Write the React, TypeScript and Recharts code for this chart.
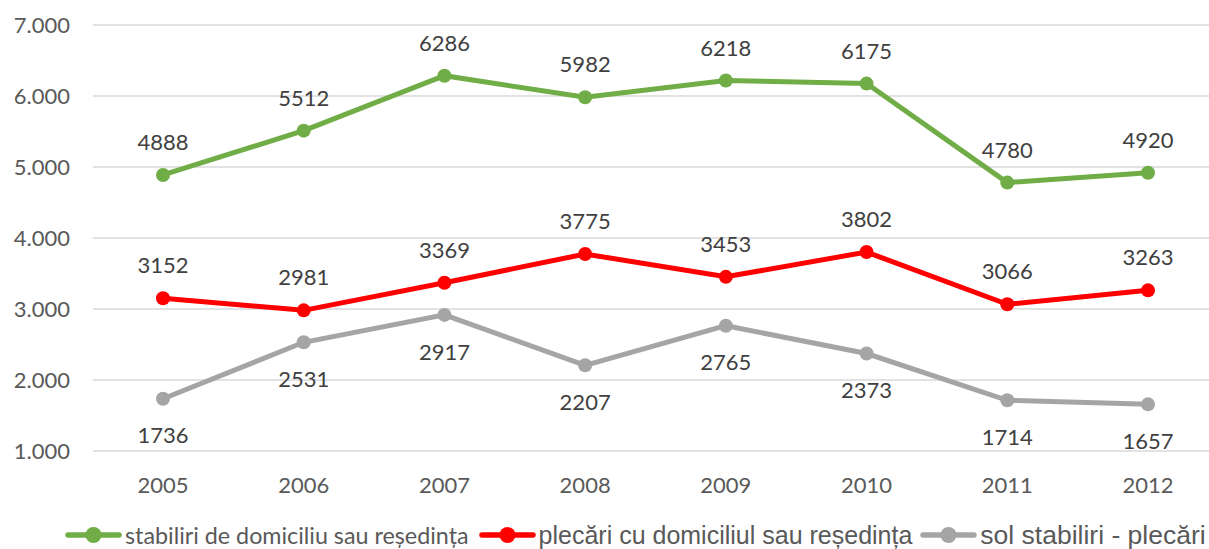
import React from 'react';
import { LineChart, Line, XAxis, YAxis, CartesianGrid, Legend, LabelList } from 'recharts';

const years = ['2005', '2006', '2007', '2008', '2009', '2010', '2011', '2012'];
const stabiliri = [4888, 5512, 6286, 5982, 6218, 6175, 4780, 4920];
const plecari = [3152, 2981, 3369, 3775, 3453, 3802, 3066, 3263];
const sold = [1736, 2531, 2917, 2207, 2765, 2373, 1714, 1657];
const yTicks = [1000, 2000, 3000, 4000, 5000, 6000, 7000];

const series = [
  { key: 'stabiliri', name: 'stabiliri de domiciliu sau reședința', color: '#70AD47', font: 'Lato, sans-serif', size: 23.3, gap: 10 },
  { key: 'plecari', name: 'plecări cu domiciliul sau reședința', color: '#FF0000', font: '"Liberation Sans", Arial, sans-serif', size: 25, gap: 8 },
  { key: 'sold', name: 'sol stabiliri - plecări', color: '#A5A5A5', font: '"Liberation Sans", Arial, sans-serif', size: 26.5, gap: 0 },
];

const data = years.map((year, i) => ({
  year,
  stabiliri: stabiliri[i],
  plecari: plecari[i],
  sold: sold[i],
}));

const fmt = (v: number): string => v.toLocaleString('de-DE');

// legend drawn by hand so each item can keep its own font
const LegendContent = () => (
  <div style={{ height: 32, display: 'flex', alignItems: 'center', paddingLeft: 65, paddingTop: 4, whiteSpace: 'nowrap', boxSizing: 'border-box' }}>
    {series.map((s) => (
      <div key={s.key} style={{ display: 'flex', alignItems: 'center', marginRight: s.gap }}>
        <svg width={57} height={18} style={{ marginRight: 3, flexShrink: 0 }}>
          <line x1={3} y1={9} x2={54} y2={9} stroke={s.color} strokeWidth={5.5} strokeLinecap="round" />
          <circle cx={28.5} cy={9} r={8} fill={s.color} />
        </svg>
        <span style={{ fontFamily: s.font, fontSize: s.size, color: '#595959', lineHeight: 'normal' }}>{s.name}</span>
      </div>
    ))}
  </div>
);

const tickStyle = { fontFamily: 'Lato, sans-serif', fontSize: 22, fill: '#595959' };
const labelStyle = { fontFamily: 'Lato, sans-serif', fontSize: 22, fill: '#404040' };

export default function App() {
  return (
    <div style={{ position: 'absolute', left: 0, top: 0, width: 1209, height: 549, overflow: 'hidden', background: '#fff' }}>
      <LineChart width={1220} height={549} data={data} margin={{ top: 25, right: 2, left: 0, bottom: 0 }}>
        <CartesianGrid vertical={false} stroke="#D9D9D9" strokeWidth={1.3} />
        <XAxis
          dataKey="year"
          axisLine={false}
          tickLine={false}
          tickSize={0}
          tickMargin={26}
          height={66}
          padding={{ left: 70, right: 70 }}
          tick={tickStyle}
        />
        <YAxis
          domain={[1000, 7000]}
          ticks={yTicks}
          tickFormatter={fmt}
          axisLine={false}
          tickLine={false}
          tickSize={0}
          tickMargin={23}
          width={93}
          tick={tickStyle}
        />
        <Legend verticalAlign="bottom" height={32} content={<LegendContent />} />
        {series.map((s) => (
          <Line
            key={s.key}
            dataKey={s.key}
            name={s.name}
            stroke={s.color}
            strokeWidth={5}
            dot={{ r: 7, fill: s.color, stroke: s.color, strokeWidth: 0 }}
            activeDot={false}
            isAnimationActive={false}
          >
            <LabelList
              dataKey={s.key}
              position={s.key === 'sold' ? 'bottom' : 'top'}
              offset={s.key === 'sold' ? 29 : 25}
              style={labelStyle}
            />
          </Line>
        ))}
      </LineChart>
    </div>
  );
}
